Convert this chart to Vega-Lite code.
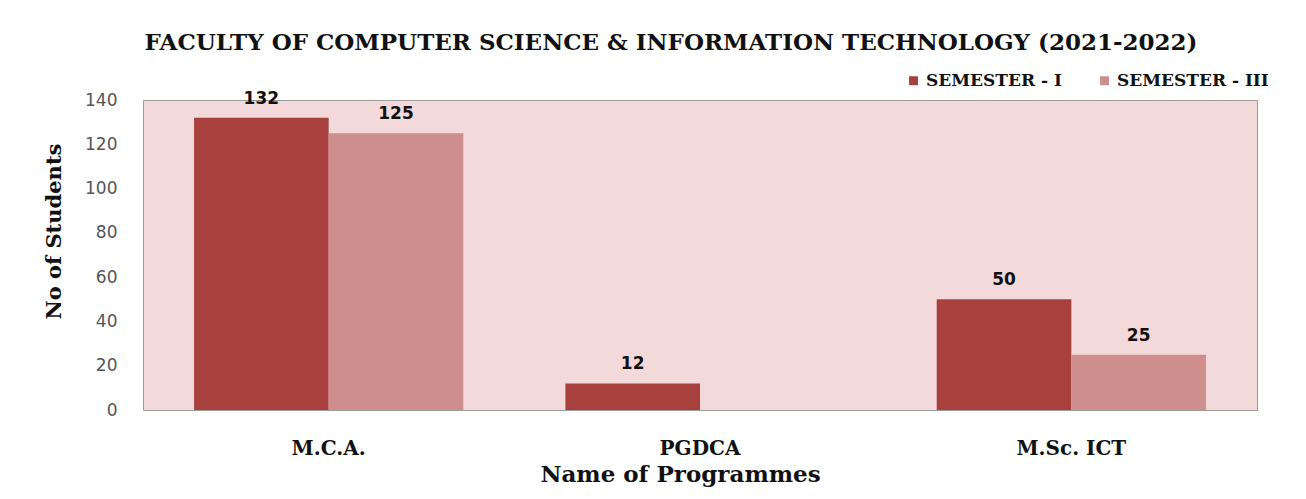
{
  "$schema": "https://vega.github.io/schema/vega-lite/v6.json",
  "width": 1114,
  "height": 310,
  "autosize": {"type": "none"},
  "padding": {"left": 143, "top": 100, "right": 49, "bottom": 89},
  "background": "white",
  "title": {
    "text": "FACULTY OF COMPUTER SCIENCE & INFORMATION TECHNOLOGY (2021-2022)",
    "font": "DejaVu Serif",
    "fontSize": 23,
    "fontWeight": "bold",
    "color": "#111111",
    "anchor": "middle",
    "dx": -29,
    "offset": 17
  },
  "data": {
    "values": [
      {"programme": "M.C.A.", "semester": "SEMESTER - I", "students": 132},
      {"programme": "M.C.A.", "semester": "SEMESTER - III", "students": 125},
      {"programme": "PGDCA", "semester": "SEMESTER - I", "students": 12},
      {"programme": "M.Sc. ICT", "semester": "SEMESTER - I", "students": 50},
      {"programme": "M.Sc. ICT", "semester": "SEMESTER - III", "students": 25}
    ]
  },
  "encoding": {
    "x": {
      "field": "programme",
      "type": "nominal",
      "sort": ["M.C.A.", "PGDCA", "M.Sc. ICT"],
      "scale": {"paddingInner": 0.275, "paddingOuter": 0.1375},
      "axis": {
        "title": "Name of Programmes",
        "labelAngle": 0,
        "labelFont": "DejaVu Serif",
        "labelFontSize": 20,
        "labelFontWeight": "bold",
        "labelColor": "#111111",
        "labelPadding": 28,
        "ticks": false,
        "domain": false,
        "titleFont": "DejaVu Serif",
        "titleFontSize": 23,
        "titleFontWeight": "bold",
        "titleColor": "#111111",
        "titlePadding": 5,
        "titleX": 537
      }
    },
    "xOffset": {"field": "semester", "type": "nominal", "sort": ["SEMESTER - I", "SEMESTER - III"]},
    "y": {
      "field": "students",
      "type": "quantitative",
      "scale": {"domain": [0, 140]},
      "axis": {
        "title": "No of Students",
        "values": [0, 20, 40, 60, 80, 100, 120, 140],
        "grid": false,
        "ticks": false,
        "domain": false,
        "labelFont": "DejaVu Sans",
        "labelFontSize": 17,
        "labelColor": "#555555",
        "labelPadding": 26,
        "titleFont": "DejaVu Serif",
        "titleFontSize": 21,
        "titleFontWeight": "bold",
        "titleColor": "#111111",
        "titlePadding": 20,
        "titleY": 131
      }
    }
  },
  "layer": [
    {
      "mark": {"type": "bar"},
      "encoding": {
        "color": {
          "field": "semester",
          "type": "nominal",
          "sort": ["SEMESTER - I", "SEMESTER - III"],
          "scale": {"range": ["#A8403E", "#CF8E8E"]},
          "legend": {
            "title": null,
            "orient": "none",
            "direction": "horizontal",
            "legendX": 762,
            "legendY": -28,
            "symbolType": "square",
            "symbolSize": 80,
            "symbolStrokeWidth": 0,
            "labelFont": "DejaVu Serif",
            "labelFontSize": 17,
            "labelFontWeight": "bold",
            "labelColor": "#111111",
            "columnPadding": 34,
            "labelOffset": 4
          }
        }
      }
    },
    {
      "mark": {
        "type": "text",
        "baseline": "bottom",
        "dy": -10,
        "font": "DejaVu Sans",
        "fontSize": 17,
        "fontWeight": "bold",
        "color": "#111111"
      },
      "encoding": {
        "text": {"field": "students", "type": "quantitative"}
      }
    }
  ],
  "config": {
    "view": {"fill": "#F3D9DA", "stroke": "#9a9a9a", "strokeWidth": 1}
  }
}
